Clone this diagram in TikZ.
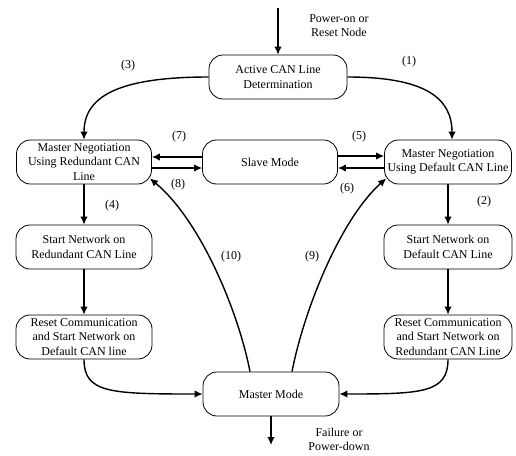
\documentclass[tikz,border=0pt]{standalone}
\usepackage{fontspec}
\setmainfont{Liberation Serif}
\usetikzlibrary{arrows.meta}

\begin{document}
\begin{tikzpicture}[x=1pt, y=-1pt,
	state/.style={draw, line width=0.8pt, rounded corners=14pt, minimum width=136pt, minimum height=44pt, inner sep=1pt, align=center, font=\fontsize{12}{14.5}\selectfont},
	flow/.style={-{Latex[length=8pt, width=7.5pt]}, line width=1.4pt},
	lbl/.style={font=\fontsize{12}{14}\selectfont, align=center}]
	\useasboundingbox (0,0) rectangle (516,455);

	\node[state, minimum width=138pt] (active) at (278,77) {Active CAN Line\\Determination};
	\node[state, minimum width=135pt] (negred) at (84,162) {Master Negotiation\\Using Redundant CAN\\Line};
	\node[state, minimum width=135pt] (slave) at (270,162) {Slave Mode};
	\node[state, minimum width=127pt] (negdef) at (448,162) {Master Negotiation\\Using Default CAN Line};
	\node[state] (startred) at (84,247) {Start Network on\\Redundant CAN Line};
	\node[state, minimum width=128pt] (startdef) at (448,247) {Start Network on\\Default CAN Line};
	\node[state] (resetdef) at (84,337) {Reset Communication\\and Start Network on\\Default CAN line};
	\node[state, minimum width=128pt] (resetred) at (448,337) {Reset Communication\\and Start Network on\\Redundant CAN Line};
	\node[state] (master) at (271,394) {Master Mode};

	\coordinate (powerin) at (278,8);
	\coordinate (powerout) at (271,445);
	\node[lbl] (poweron) at (339,26) {Power-on or\\Reset Node};
	\node[lbl] (failure) at (339,439) {Failure or\\Power-down};

	% entry and exit
	\draw[flow] (powerin) -- (active);
	\draw[flow] (master) -- (powerout);

	% line determination
	\draw[flow] (active.west) .. controls (115,77) and (84,98) .. (negred.north);
	\draw[flow] (active.east) .. controls (425,77) and (452,98) .. ([xshift=4pt]negdef.north);

	% slave mode
	\draw[flow] ([yshift=5pt]slave.west) -- ([yshift=5pt]negred.east);
	\draw[flow] ([yshift=-6pt]negred.east) -- ([yshift=-6pt]slave.west);
	\draw[flow] ([yshift=6pt]slave.east) -- ([yshift=6pt]negdef.west);
	\draw[flow] ([yshift=-6pt]negdef.west) -- ([yshift=-6pt]slave.east);

	% start network
	\draw[flow] (negred) -- (startred);
	\draw[flow] (startred) -- (resetdef);
	\draw[flow] (negdef) -- (startdef);
	\draw[flow] (startdef) -- (resetred);
	\draw[flow] (resetdef.south) .. controls (84,393) and (110,394) .. (master.west);
	\draw[flow] (resetred.south) .. controls (448,393) and (422,394) .. (master.east);

	% back to negotiation
	\draw[flow] ([xshift=-21pt]master.north) .. controls (238,310) and (200,220) .. ([shift={(-2pt,6pt)}]negred.south east);
	\draw[flow] ([xshift=21pt]master.north) .. controls (304,310) and (340,220) .. ([shift={(2pt,6pt)}]negdef.south west);

	\node[lbl] (l1) at (409,62) {(1)};
	\node[lbl] (l2) at (484,202) {(2)};
	\node[lbl] (l3) at (128,66) {(3)};
	\node[lbl] (l4) at (112,206) {(4)};
	\node[lbl] (l5) at (359,137) {(5)};
	\node[lbl] (l6) at (347,189) {(6)};
	\node[lbl] (l7) at (179,137) {(7)};
	\node[lbl] (l8) at (178,185) {(8)};
	\node[lbl] (l9) at (312,257) {(9)};
	\node[lbl] (l10) at (231,257) {(10)};
\end{tikzpicture}
\end{document}
